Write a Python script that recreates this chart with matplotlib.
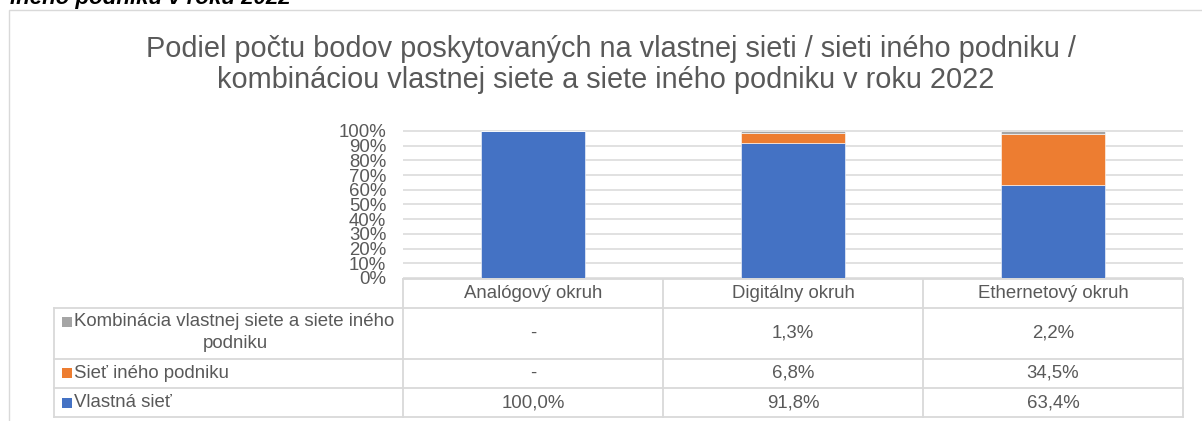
import matplotlib
matplotlib.use('Agg')
import numpy as np
import matplotlib.pyplot as plt
from matplotlib.transforms import blended_transform_factory
from matplotlib.lines import Line2D
from matplotlib.patches import Rectangle

plt.rcParams['font.family'] = ['Liberation Sans', 'DejaVu Sans']

# ---------------- data ----------------
categories = ['Analógový okruh', 'Digitálny okruh', 'Ethernetový okruh']
series_names = ['Kombinácia vlastnej siete a siete iného', 'podniku',
                'Sieť iného podniku', 'Vlastná sieť']
vlastna = [100.0, 91.8, 63.4]
ineho = [0.0, 6.8, 34.5]
kombinacia = [0.0, 1.3, 2.2]
table_kombinacia = ['-', '1,3%', '2,2%']
table_ineho = ['-', '6,8%', '34,5%']
table_vlastna = ['100,0%', '91,8%', '63,4%']
yticks = [0, 10, 20, 30, 40, 50, 60, 70, 80, 90, 100]
ytick_labels = ['0%', '10%', '20%', '30%', '40%', '50%', '60%', '70%', '80%', '90%', '100%']
title_lines = ['Podiel počtu bodov poskytovaných na vlastnej sieti / sieti iného podniku /',
               'kombináciou vlastnej siete a siete iného podniku v roku 2022']
cut_text = 'iného podniku v roku 2022'

# ---------------- style ----------------
BLUE = '#4472C4'
ORANGE = '#ED7D31'
GRAY = '#A5A5A5'
TXT = '#595959'
LINE = '#D9D9D9'
FS = 13.4

W, H = 1202, 421
fig = plt.figure(figsize=(W / 100, H / 100), dpi=100)


def fx(px):
    return px / W


def fy(py):
    return 1 - py / H


# outer chart frame (extends beyond right/bottom edges)
fig.patches.append(Rectangle((fx(8.5), fy(600)), fx(1400), fy(9.5) - fy(600),
                             transform=fig.transFigure, fill=False,
                             edgecolor=LINE, linewidth=1.0))

# cut-off caption at the very top (cut off in the reference as well)
fig.text(fx(10), fy(4), cut_text, fontsize=16, style='italic', fontweight='bold',
         color='#000000', ha='left', va='baseline')

# title
fig.text(fx(611), fy(57), title_lines[0], fontsize=20.8, color=TXT, ha='center', va='baseline')
fig.text(fx(605.5), fy(88), title_lines[1], fontsize=20.8, color=TXT, ha='center', va='baseline')

# plot area
ax = fig.add_axes([fx(403), fy(278), (1183 - 403) / W, (278 - 131) / H])
x = np.arange(len(categories))
v = np.array(vlastna) / 100
o = np.array(ineho) / 100
g = np.array(kombinacia) / 100
ax.bar(x, v, width=0.4, color=BLUE, edgecolor='white', linewidth=0.4, zorder=2)
ax.bar(x, o, width=0.4, bottom=v, color=ORANGE, edgecolor='white', linewidth=0.4, zorder=2)
ax.bar(x, g, width=0.4, bottom=v + o, color=GRAY, edgecolor='white', linewidth=0.4, zorder=2)

ax.set_xlim(-0.5, 2.5)
ax.set_ylim(0, 1)
yt = np.array(yticks) / 100
ax.hlines(yt, -0.5, 2.5, colors=LINE, linewidth=1.1, clip_on=False, zorder=0)
ax.set_yticks(yt)
ax.set_yticklabels(ytick_labels)
ax.tick_params(axis='y', length=0, pad=12, labelsize=FS, labelcolor=TXT)
ax.set_xticks([])
for s in ax.spines.values():
    s.set_visible(False)
ax.patch.set_visible(False)

# ---------------- data table ----------------
tr = blended_transform_factory(ax.transData, fig.transFigure)
lw_t = 1.3


def hline(x0, x1, py):
    fig.lines.append(Line2D([fx(x0), fx(x1)], [fy(py), fy(py)], transform=fig.transFigure,
                            color=LINE, linewidth=lw_t))


def vline(px, y0, y1):
    fig.lines.append(Line2D([fx(px), fx(px)], [fy(y0), fy(y1)], transform=fig.transFigure,
                            color=LINE, linewidth=lw_t))


hline(403, 1183, 279)
for py in [308, 359, 388, 417]:
    hline(54, 1183, py)
for px in [403, 663, 923, 1183]:
    vline(px, 279, 417)
vline(54, 308, 417)

# header
for i, c in enumerate(categories):
    fig.text(i, fy(294), c, transform=tr, fontsize=FS, color=TXT, ha='center', va='center')

rows = [(table_kombinacia, 333.5), (table_ineho, 373.5), (table_vlastna, 402.5)]
for vals, py in rows:
    for i, t in enumerate(vals):
        fig.text(i, fy(py), t, transform=tr, fontsize=FS, color=TXT, ha='center', va='center')


# row labels with legend keys
def key(py, color):
    fig.patches.append(Rectangle((fx(62), fy(py + 5)), 10 / W, 10 / H,
                                 transform=fig.transFigure, facecolor=color, edgecolor='none'))


key(322, GRAY)
fig.text(fx(74), fy(322), series_names[0], fontsize=FS, color=TXT, ha='left', va='center')
fig.text(fx(235), fy(343), series_names[1], fontsize=FS, color=TXT, ha='center', va='center')
key(373, ORANGE)
fig.text(fx(74), fy(373.5), series_names[2], fontsize=FS, color=TXT, ha='left', va='center')
key(403, BLUE)
fig.text(fx(74), fy(402.5), series_names[3], fontsize=FS, color=TXT, ha='left', va='center')

fig.savefig('out.png', dpi=100, facecolor='white')
